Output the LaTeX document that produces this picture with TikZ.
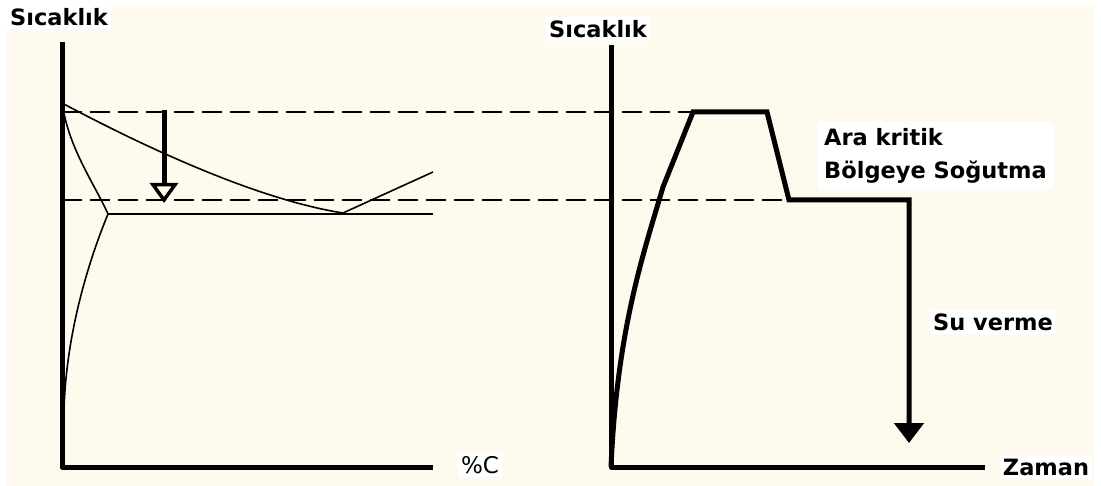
\documentclass[tikz,border=0pt]{standalone}
\usepackage{fontspec}
\setmainfont{DejaVu Sans}
\usepackage{xcolor}
\usetikzlibrary{arrows.meta}
\definecolor{cream}{RGB}{255,250,238}

\begin{document}
\begin{tikzpicture}[x=1pt,y=-1pt,
  axisline/.style={line width=5pt,line join=round},
  thincurve/.style={line width=1.6pt},
  guide/.style={line width=1.6pt,dash pattern=on 20pt off 8pt},
  lbl/.style={fill=white,inner sep=3pt,font=\fontsize{22.5}{27}\selectfont\bfseries}]
\useasboundingbox (0,0) rectangle (1101,486);
\fill[cream] (7,5) rectangle (1094,486);

% left: phase diagram
\coordinate (o1) at (62,467);
\coordinate (t1) at (62,42);
\coordinate (e1) at (433,467);
\coordinate (j) at (108,214);
\coordinate (m) at (343,213);
% right: temperature vs time
\coordinate (o2) at (611,467);
\coordinate (t2) at (611,45);
\coordinate (e2) at (985,467);
\coordinate (k) at (663,187);
\coordinate (p1) at (693,112);
\coordinate (p2) at (767,112);
\coordinate (c1) at (789,200);
\coordinate (c2) at (909,200);
\coordinate (q) at (909,443);

\draw[guide] (62,112) -- (p1);
\draw[guide] (62,200) -- (c1);

\draw[thincurve] (62,103) .. controls (150,150) and (260,200) .. (m) -- (433,172);
\draw[thincurve] (63,108) .. controls (70,150) and (95,185) .. (j);
\draw[thincurve] (j) .. controls (85,270) and (66,340) .. (64,410);
\draw[thincurve] (j) -- (433,214);

\draw[axisline] (t1) -- (o1) -- (e1);
\draw[axisline] (t2) -- (o2) -- (e2);

\draw[line width=5pt,-{Triangle[open,length=20pt,width=28pt,line width=3.5pt]}] (164,110) -- (164,203);
\draw[axisline,line join=miter,-{Triangle[length=20pt,width=29pt]}] (o2) .. controls (617,330) and (643,255) .. (k) -- (p1) -- (p2) -- (c1) -- (c2) -- (q);

\node[lbl] (sl) at (59,17) {Sıcaklık};
\node[lbl] (sr) at (598,29) {Sıcaklık};
\node[lbl,font=\fontsize{23}{27}\selectfont] (pc) at (480,465) {\%C};
\node[lbl] (zm) at (1046,467) {Zaman};
\node[lbl,anchor=north west,align=left,inner sep=6pt] (ak) at (818,122) {Ara kritik\\[6pt]Bölgeye Soğutma};
\node[lbl] (sv) at (993,322) {Su verme};
\end{tikzpicture}
\end{document}
